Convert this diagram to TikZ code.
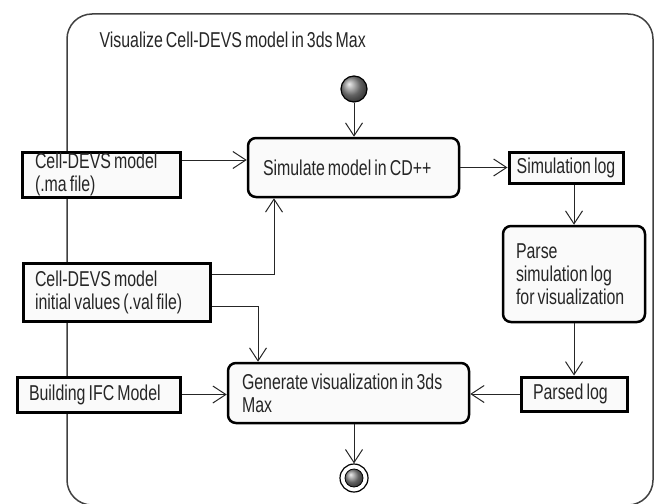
\documentclass[tikz,border=0pt]{standalone}
\usepackage{fontspec}
\setmainfont{Liberation Sans}[FakeStretch=0.74, WordSpace=0.7]
\usetikzlibrary{arrows.meta,positioning,shadings}
\newcommand{\boxfont}{\fontsize{21.5}{23}\selectfont}

\begin{document}
\begin{tikzpicture}[
    x=1pt, y=-1pt,
    font=\boxfont, text=black!85,
    act/.style={draw, line width=2.5pt, rounded corners=8pt, fill=black!2, align=flush left, inner ysep=0pt},
    obj/.style={draw, line width=3pt, fill=black!2, align=flush left, inner ysep=0pt},
    arr/.style={-{Straight Barb[length=13pt, width=17pt, line width=1pt]}, line width=1pt, black!85}
]
\useasboundingbox (0,0) rectangle (655,503);
\clip (0,0) rectangle (655,503);
\draw[line width=1.5pt, black!75, rounded corners=25pt] (67,14) rectangle (653,505);
\node[anchor=west] (title) at (96,40) {Visualize Cell-DEVS model in 3ds Max};

\node[circle, draw, line width=1.2pt, minimum size=26pt, inner sep=0pt, shading=ball, ball color=black!45] (start) at (354,89) {};
\node[act, minimum height=59pt, text width=181pt, inner xsep=15pt] (sim) at (353.5,167.5) {Simulate model in CD++};
\node[obj, minimum height=45pt, text width=132pt, inner xsep=13pt] (ma) at (101,174.5) {Cell-DEVS model\\(.ma file)};
\node[obj, minimum height=31pt, minimum width=114pt, inner xsep=0pt] (simlog) at (566,167.5) {Simulation log};
\node[act, minimum height=96pt, text width=116pt, inner xsep=13pt] (parse) at (574,274) {Parse\\simulation log\\for visualization};
\node[obj, minimum height=58pt, text width=163pt, inner xsep=12pt] (val) at (116.5,292) {Cell-DEVS model\\initial values (.val file)};
\node[obj, minimum height=35pt, text width=139pt, inner xsep=12pt] (ifc) at (98.5,394.5) {Building IFC Model};
\node[act, minimum height=60pt, text width=213pt, inner xsep=14pt] (gen) at (348.5,393) {Generate visualization in 3ds\\Max};
\node[obj, minimum height=34pt, text width=82pt, inner xsep=12pt] (parsed) at (574,394) {Parsed log};
\node[circle, draw, line width=1.2pt, fill=white, minimum size=28pt, inner sep=0pt] (end) at (354,478) {};
\node[circle, minimum size=18pt, inner sep=0pt, shading=ball, ball color=black!45, draw, line width=0.8pt] (endin) at (end) {};

\draw[arr] (start) -- (start |- sim.north);
\draw[arr] ([yshift=14.5pt]ma.east) -- ([yshift=14.5pt]ma.east -| sim.west);
\draw[arr] (sim.east) -- (simlog.west);
\draw[arr] (parse.north |- simlog.south) -- (parse.north);
\draw[arr] (parse.south) -- (parsed.north);
\draw[arr] (parsed.west) -- (parsed.west -| gen.east);
\draw[arr] (ifc.east) -- (ifc.east -| gen.west);
\draw[arr] ([yshift=18pt]val.east) -| ([xshift=-79.5pt]sim.south);
\draw[arr] ([yshift=-14pt]val.east) -| ([xshift=-90.5pt]gen.north);
\draw[arr] (end |- gen.south) -- (end.north);
\end{tikzpicture}
\end{document}
